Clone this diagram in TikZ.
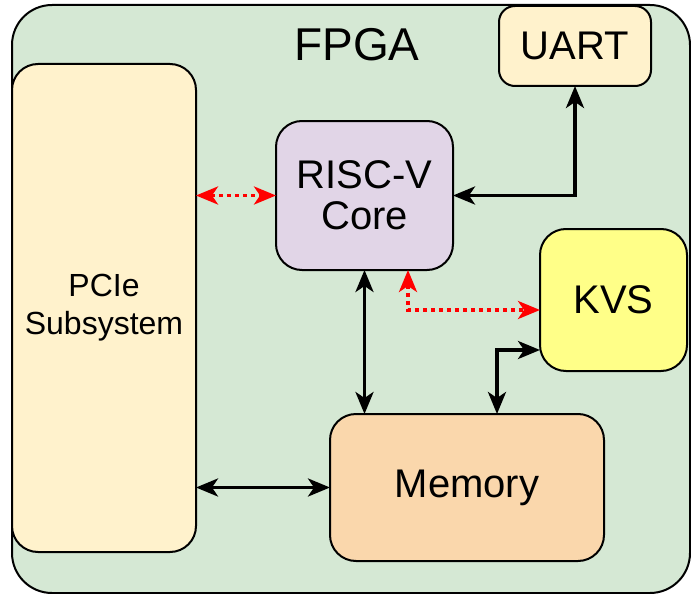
\documentclass[tikz,border=0pt]{standalone}
\usepackage{fontspec}
\setmainfont{Liberation Sans}
\usetikzlibrary{arrows.meta,calc}

\definecolor{fpgagreen}{HTML}{D5E8D4}
\definecolor{paleyellow}{HTML}{FFF2CC}
\definecolor{lilac}{HTML}{E1D5E7}
\definecolor{brightyellow}{HTML}{FFFF88}
\definecolor{peach}{HTML}{FAD7AC}
\definecolor{linkred}{HTML}{FF0000}

\tikzset{
  block/.style={draw=black, line width=2pt, rounded corners=26pt, outer sep=0pt,
                inner sep=0pt, align=center, text=black,
                font=\fontsize{40}{41}\selectfont},
  tip/.style={Stealth[length=22pt,width=18pt,inset=6pt]},
  busline/.style={line width=3.5pt, draw=black, {Stealth[length=22pt,width=18pt,inset=6pt]}-{Stealth[length=22pt,width=18pt,inset=6pt]}},
  ctrlline/.style={line width=3.5pt, draw=linkred, dash pattern=on 4pt off 4pt,
                  {Stealth[length=22pt,width=18pt,inset=6pt]}-{Stealth[length=22pt,width=18pt,inset=6pt]}},
}

\begin{document}
\begin{tikzpicture}[x=1pt, y=-1pt]
  \useasboundingbox (0,0) rectangle (691,594);

  % FPGA fabric
  \node[block, fill=fpgagreen, rounded corners=40pt, minimum width=678pt,
        minimum height=588pt, anchor=north west] (fpga) at (12,5) {};
  \node[font=\fontsize{46}{50}\selectfont] (fpgalabel) at (357,45) {FPGA};

  % functional blocks
  \node[block, fill=paleyellow, minimum width=184pt, minimum height=488pt,
        font=\fontsize{32}{38}\selectfont] (pcie) at (104,308) {PCIe\\Subsystem};
  \node[block, fill=lilac, minimum width=177pt, minimum height=149pt] (risc) at (364.5,195.5) {RISC-V\\Core};
  \node[block, fill=paleyellow, rounded corners=16pt, minimum width=152pt, minimum height=80pt] (uart) at (575,46) {UART};
  \node[block, fill=brightyellow, minimum width=147pt, minimum height=142pt] (kvs) at (613.5,300) {KVS};
  \node[block, fill=peach, minimum width=274pt, minimum height=147pt] (mem) at (467,487.5) {Memory};

  % data paths
  \draw[busline] (risc.east) -| (uart.south);
  \draw[busline] (risc.south) -- (risc.south |- mem.north);
  \draw[busline] ([xshift=30pt]mem.north) |- ([yshift=-50pt]kvs.west);
  \draw[busline] (pcie.east |- mem.west) -- (mem.west);

  % control paths
  \draw[ctrlline] (pcie.east |- risc.west) -- (risc.west);
  \draw[ctrlline] ([xshift=43.5pt]risc.south) |- ([yshift=-10pt]kvs.west);
\end{tikzpicture}
\end{document}
